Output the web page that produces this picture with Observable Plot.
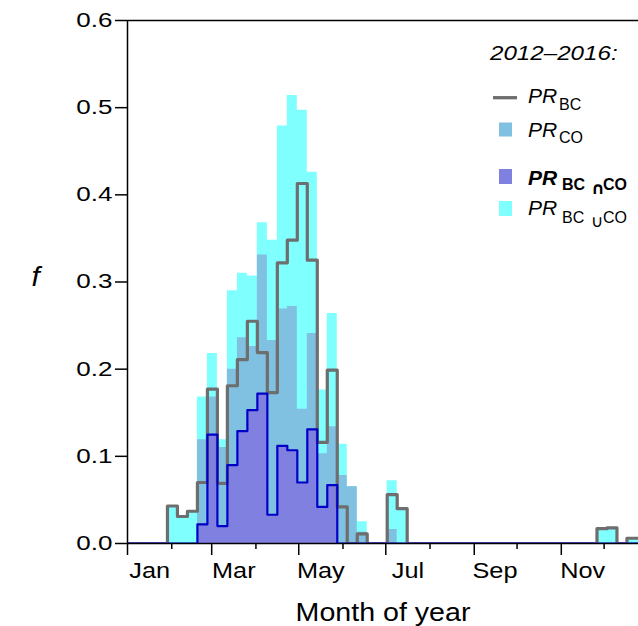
<!DOCTYPE html>
<html><head><meta charset="utf-8">
<script src="https://cdn.jsdelivr.net/npm/d3@7"></script>
<script src="https://cdn.jsdelivr.net/npm/@observablehq/plot@0.6"></script>
<style>
html,body{margin:0;padding:0;background:#fff;overflow:hidden}
#wrap{position:relative;width:638px;height:626px;font-family:"Liberation Sans",Arial,sans-serif}
#wrap svg.legend{position:absolute;left:0;top:0;pointer-events:none}
</style></head><body><div id="wrap"></div>
<script>
// Weekly bins (week index 0..51, 7 days each), fraction f
const BC = [0,0,0,0,0.043,0.031,0.037,0.070,0.177,0.069,0.181,0.211,0.255,0.219,0.173,0.322,0.348,0.413,0.325,0.116,0.199,0.042,0,0.011,0,0,0.056,0.040,0,0,0,0,0,0,0,0,0,0,0,0,0,0,0,0,0,0,0,0.017,0.018,0,0.006,0.006];
const CO = [0,0,0,0,0,0,0,0.119,0.168,0.110,0.200,0.236,0.226,0.331,0.233,0.269,0.272,0.154,0.241,0.103,0.134,0.078,0.065,0.013,0,0,0.016,0,0,0,0,0,0,0,0,0,0,0,0,0,0,0,0,0,0,0,0,0,0,0,0,0];
const INTER = [0,0,0,0,0,0,0,0.022,0.125,0.020,0.090,0.129,0.153,0.172,0.033,0.112,0.107,0.070,0.131,0.042,0.067,0,0,0,0,0,0,0,0,0,0,0,0,0,0,0,0,0,0,0,0,0,0,0,0,0,0,0,0,0,0,0];
const UNION = [0,0,0,0,0.043,0.031,0.037,0.168,0.218,0.119,0.290,0.310,0.307,0.368,0.348,0.479,0.514,0.497,0.426,0.176,0.264,0.114,0.065,0.025,0,0,0.072,0.040,0,0,0,0,0,0,0,0,0,0,0,0,0,0,0,0,0,0,0,0.017,0.018,0,0.006,0.006];
const binDays = 7;
const monthStartDays = [0,31,59,90,120,151,181,212,243,273,304,334];
const monthLabels = ["Jan","Mar","May","Jul","Sep","Nov"];
const monthLabelDays = [15.5,74.5,135.5,196.5,257.5,319];
const yTicks = [0,0.1,0.2,0.3,0.4,0.5,0.6];

// rows at bin edges (last bin repeated to close the step)
const rows = d3.range(BC.length + 1).map(k => {
  const j = Math.min(k, BC.length - 1);
  return {x: k * binDays, bc: BC[j], co: CO[j], inter: INTER[j], union: UNION[j]};
});
const oddStarts = monthStartDays.filter((d, i) => i % 2 === 0);
const evenStarts = monthStartDays.filter((d, i) => i % 2 === 1);
const labelMap = new Map(monthLabelDays.map((d, i) => [d, monthLabels[i]]));

const chart = Plot.plot({
  width: 638, height: 626,
  marginLeft: 127, marginRight: 0, marginTop: 20, marginBottom: 83,
  x: {domain: [0, 358.1]},
  y: {domain: [0, 0.6]},
  style: {fontFamily: "'Liberation Sans', Arial, sans-serif", fontSize: "20px", background: "white", color: "black"},
  marks: [
    Plot.areaY(rows, {x: "x", y: "union", curve: "step-after", fill: "#80ffff", clip: true}),
    Plot.areaY(rows, {x: "x", y: "co", curve: "step-after", fill: "#80c0e0", clip: true}),
    Plot.areaY(rows, {x: "x", y: "inter", curve: "step-after", fill: "#8080e0", clip: true}),
    Plot.ruleY([0], {stroke: "black", strokeWidth: 1.5}),
    Plot.line(rows, {x: "x", y: "bc", curve: "step-after", stroke: "#6e6e6e", strokeWidth: 3.2, clip: true}),
    Plot.line(rows, {x: "x", y: "inter", curve: "step-after", stroke: "#0000c8", strokeWidth: 2.2, clip: true}),
    Plot.ruleY([0.6], {stroke: "black", strokeWidth: 1.5}),
    Plot.ruleX([0], {stroke: "black", strokeWidth: 1.5}),
    Plot.axisY({ticks: yTicks, tickSize: 12, tickPadding: 3, tickFormat: d3.format(".1f"), label: null, strokeWidth: 1.5, fontSize: 20}),
    Plot.axisX({ticks: oddStarts, tickSize: 12, tickFormat: () => "", label: null, strokeWidth: 1.5}),
    Plot.axisX({ticks: evenStarts, tickSize: 6, tickFormat: () => "", label: null, strokeWidth: 1.5}),
    Plot.axisX({ticks: monthLabelDays, tickSize: 0, tickPadding: 19, tickFormat: d => labelMap.get(d), label: null, fontSize: 22}),
    Plot.text(["Month of year"], {frameAnchor: "bottom", dy: 69, fontSize: 26, lineAnchor: "middle"}),
    Plot.text(["f"], {frameAnchor: "left", dx: -96, dy: -5, fontSize: 27, fontStyle: "italic"})
  ]
});
const wrap = document.getElementById("wrap");
wrap.appendChild(chart);

// legend overlay
const legend = `
<svg class="legend" width="638" height="626" xmlns="http://www.w3.org/2000/svg" font-family="'Liberation Sans', Arial, sans-serif">
  <text class="st" x="490" y="60" font-size="21" font-style="italic">2012–2016:</text>
  <line x1="493" x2="517" y1="97.7" y2="97.7" stroke="#6e6e6e" stroke-width="3.3"/>
  <text x="528" y="103" font-size="21" font-style="italic">PR</text>
  <text x="559" y="110" font-size="16">BC</text>
  <rect x="499" y="122.5" width="13" height="14" fill="#80c0e0"/>
  <text x="528" y="137" font-size="21" font-style="italic">PR</text>
  <text x="559" y="143" font-size="16">CO</text>
  <rect x="499" y="169" width="13" height="15" fill="#8080e0"/>
  <text x="528" y="185" font-size="21" font-style="italic" font-weight="bold">PR</text>
  <text x="562" y="190" font-size="16" font-weight="bold">BC</text>
  <text x="591" y="194" font-size="17" font-weight="bold" font-family="'DejaVu Sans'">∩</text>
  <text x="603" y="190" font-size="16" font-weight="bold">CO</text>
  <rect x="499" y="201" width="13" height="15" fill="#80ffff"/>
  <text x="528" y="215" font-size="21" font-style="italic">PR</text>
  <text x="562" y="222.5" font-size="16">BC</text>
  <text x="591" y="227" font-size="17" font-family="'DejaVu Sans'">∪</text>
  <text x="603" y="222.5" font-size="16">CO</text>
</svg>`;
wrap.insertAdjacentHTML("beforeend", legend);

// horizontal stretch of text to match the reference's wider lettering
function stretch(nodes, f) {
  nodes.forEach(t => {
    const L = t.getComputedTextLength();
    if (L > 0) { t.setAttribute("textLength", (L * f).toFixed(2)); t.setAttribute("lengthAdjust", "spacingAndGlyphs"); }
  });
}
stretch(chart.querySelectorAll('g[aria-label="y-axis tick label"] text'), 1.3);
stretch(chart.querySelectorAll('g[aria-label="x-axis tick label"] text'), 1.15);
stretch(chart.querySelectorAll('g[aria-label="text"] text'), 1.1);
stretch(wrap.querySelectorAll('svg.legend text.st'), 1.15);
</script>
</body></html>
